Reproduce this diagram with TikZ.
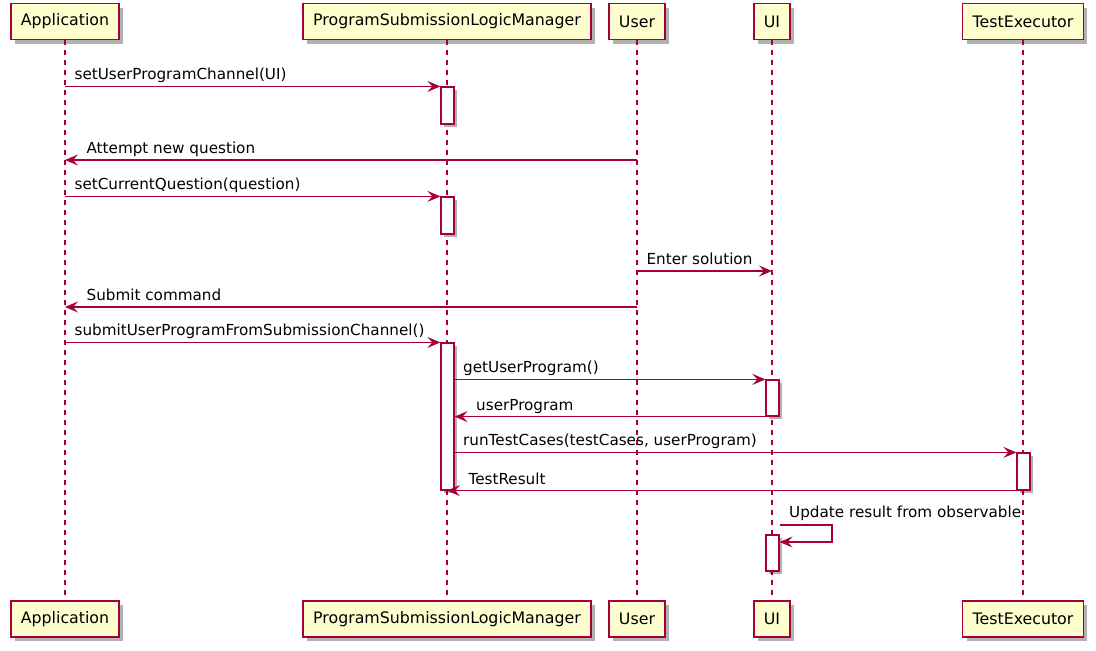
\documentclass[tikz,border=0pt]{standalone}
\usepackage{fontspec}
\setmainfont{DejaVu Sans}
\usetikzlibrary{arrows.meta, shadows}
\definecolor{umlred}{HTML}{A80036}
\definecolor{umlfill}{HTML}{FEFECE}

\begin{document}
\begin{tikzpicture}[
    x=1pt, y=-1pt,
    participant/.style={rectangle, draw=umlred, fill=umlfill, line width=1.5pt, minimum height=36pt, inner xsep=10pt, font=\fontsize{15.8}{18}\selectfont, drop shadow={shadow xshift=4pt, shadow yshift=-4pt, opacity=0.3, fill=black}},
    lifeline/.style={draw=umlred, line width=1.2pt, dash pattern=on 5pt off 5pt},
    activation/.style={rectangle, draw=umlred, fill=white, line width=1.2pt, minimum width=13pt, inner sep=0pt, drop shadow={shadow xshift=3pt, shadow yshift=-3pt, opacity=0.3, fill=black}},
    msg/.style={draw=umlred, line width=1.2pt, -{Stealth[length=13pt, width=11pt, inset=5pt]}},
    msglabel/.style={inner sep=0pt, anchor=base west, font=\fontsize{15.2}{18}\selectfont, text=black}
]
\useasboundingbox (0,0) rectangle (1096,651);

% Participants
\node[participant] (app) at (65,21.5) {Application};
\node[participant] (pslm) at (447,21.5) {ProgramSubmissionLogicManager};
\node[participant] (user) at (637,21.5) {User};
\node[participant] (ui) at (772,21.5) {UI};
\node[participant] (exec) at (1023,21.5) {TestExecutor};

\node[participant] (appB) at (65,619) {Application};
\node[participant] (pslmB) at (447,619) {ProgramSubmissionLogicManager};
\node[participant] (userB) at (637,619) {User};
\node[participant] (uiB) at (772,619) {UI};
\node[participant] (execB) at (1023,619) {TestExecutor};

% Lifelines
\draw[lifeline] (app.south) -- (appB.north);
\draw[lifeline] (pslm.south) -- (pslmB.north);
\draw[lifeline] (user.south) -- (userB.north);
\draw[lifeline] (ui.south) -- (uiB.north);
\draw[lifeline] (exec.south) -- (execB.north);

% Activations
\node[activation, minimum height=37pt] (pslmAct1) at (447.5,105.5) {};
\node[activation, minimum height=37pt] (pslmAct2) at (447.5,215.5) {};
\node[activation, minimum height=147pt] (pslmAct3) at (447.5,416.5) {};
\node[activation, minimum height=36pt] (uiAct1) at (772.5,398) {};
\node[activation, minimum height=37pt] (execAct) at (1023.5,471.5) {};
\node[activation, minimum height=36pt] (uiAct2) at (772.5,553) {};

% Message rows without activation
\coordinate (m2) at (0,160);
\coordinate (m4) at (0,271);
\coordinate (m5) at (0,307);
\coordinate (selfTop) at (832,525);
\coordinate (selfBot) at (832,542);

% Messages
\draw[msg] (app |- pslmAct1.north) -- node[msglabel, pos=0, xshift=9pt, yshift=6.5pt] {setUserProgramChannel(UI)} (pslmAct1.north west);
\draw[msg] (user |- m2) -- node[msglabel, pos=1, xshift=21pt, yshift=6.5pt] {Attempt new question} (app |- m2);
\draw[msg] (app |- pslmAct2.north) -- node[msglabel, pos=0, xshift=9pt, yshift=6.5pt] {setCurrentQuestion(question)} (pslmAct2.north west);
\draw[msg] (user |- m4) -- node[msglabel, pos=0, xshift=9pt, yshift=6.5pt] {Enter solution} (ui |- m4);
\draw[msg] (user |- m5) -- node[msglabel, pos=1, xshift=21pt, yshift=6.5pt] {Submit command} (app |- m5);
\draw[msg] (app |- pslmAct3.north) -- node[msglabel, pos=0, xshift=9pt, yshift=6.5pt] {submitUserProgramFromSubmissionChannel()} (pslmAct3.north west);
\draw[msg] (pslmAct3.east |- uiAct1.north) -- node[msglabel, pos=0, xshift=8pt, yshift=6.5pt] {getUserProgram()} (uiAct1.north west);
\draw[msg] (uiAct1.south west) -- node[msglabel, pos=1, xshift=21pt, yshift=6.5pt] {userProgram} (pslmAct3.east |- uiAct1.south);
\draw[msg] (pslmAct3.east |- execAct.north) -- node[msglabel, pos=0, xshift=8pt, yshift=6.5pt] {runTestCases(testCases, userProgram)} (execAct.north west);
\draw[msg] (execAct.south west) -- node[msglabel, pos=1, xshift=21pt, yshift=6.5pt] {TestResult} (pslm |- execAct.south);
\draw[msg] (uiAct2.east |- selfTop) -- node[msglabel, pos=0, xshift=9pt, yshift=7.5pt] {Update result from observable} (selfTop) -- (selfBot) -- (uiAct2.east |- selfBot);

\end{tikzpicture}
\end{document}
